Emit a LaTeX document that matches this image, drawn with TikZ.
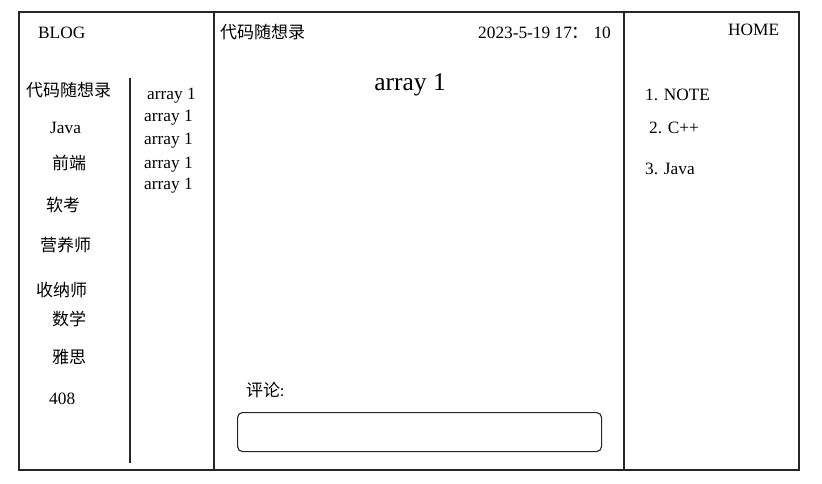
\documentclass[tikz,border=0pt]{standalone}
\usepackage{fontspec}
\setmainfont{Liberation Serif}
\newfontfamily\cjk{Noto Sans CJK SC}
\begin{document}
\begin{tikzpicture}[x=1pt,y=-1pt,
  frame/.style={draw=black!85,line width=1.2pt},
  txt/.style={inner sep=0pt,anchor=west,font=\fontsize{17.3}{19}\selectfont},
  zh/.style={inner sep=0pt,anchor=west,font=\fontsize{17}{19}\selectfont\cjk}]
\useasboundingbox (0,0) rectangle (822,484);
\draw[frame] (19,12) rectangle (799,470);
\draw[frame] (214,12) -- (214,470);
\draw[frame] (624,12) -- (624,470);
\draw[frame] (130,78) -- (130,463);
% left
\node[txt] (blog) at (38,33) {BLOG};
\node[zh] (l1) at (26,90) {代码随想录};
\node[txt] (l2) at (50,128) {Java};
\node[zh] (l3) at (52,163) {前端};
\node[zh] (l4) at (46,205) {软考};
\node[zh] (l5) at (40,245) {营养师};
\node[zh] (l6) at (36,290) {收纳师};
\node[zh] (l7) at (52,319) {数学};
\node[zh] (l8) at (52,357) {雅思};
\node[txt] (l9) at (49,399) {408};
\node[txt] (a1) at (147,96) {array 1};
\node[txt] (a2) at (144,118) {array 1};
\node[txt] (a3) at (144,141) {array 1};
\node[txt] (a4) at (144,165) {array 1};
\node[txt] (a5) at (144,186) {array 1};
% center
\node[zh] (ctitle) at (220,32) {代码随想录};
\node[txt] (date) at (478,33) {2023-5-19 17{\cjk ：} 10};
\node[inner sep=0pt,font=\fontsize{25.5}{27}\selectfont] (big) at (410,85) {array 1};
\node[zh] (cm) at (246,390) {评论{\fontsize{15}{16}\selectfont :}};
\node[draw=black!85,line width=1.1pt,rounded corners=5pt,minimum width=364pt,minimum height=39pt,inner sep=0pt,anchor=north west] (box) at (237,412) {};
% right
\node[txt] (home) at (728,30) {HOME};
\node[txt] (r1) at (645,95) {1. NOTE};
\node[txt] (r2) at (649,128) {2. C++};
\node[txt] (r3) at (645,169) {3. Java};
\end{tikzpicture}
\end{document}
